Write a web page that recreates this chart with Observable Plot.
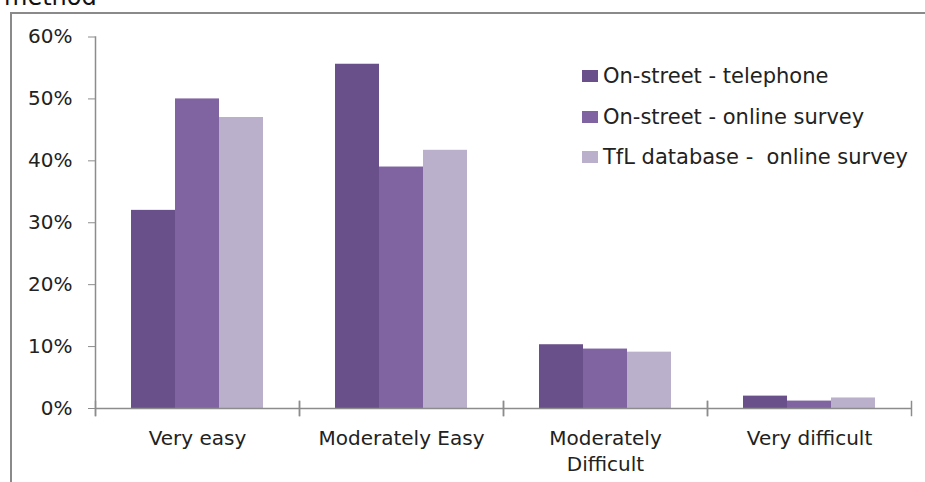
<!DOCTYPE html>
<html>
<head>
<meta charset="utf-8">
<script src="https://cdn.jsdelivr.net/npm/d3@7"></script>
<script src="https://cdn.jsdelivr.net/npm/@observablehq/plot@0.6"></script>
<style>
  body { margin: 0; background: #fff; font-family: "DejaVu Sans", sans-serif; }
  #wrap { position: relative; width: 925px; height: 482px; overflow: hidden; background: #fff; }
  #border { position: absolute; left: 10px; top: 12px; right: 0; bottom: 0;
            border-left: 2px solid #8a8a8a; border-top: 2px solid #8a8a8a; }
  #title { position: absolute; left: 4px; top: -15px; font-size: 24px; line-height: 24px; color: #111; white-space: nowrap; }
  #chart { position: absolute; left: 0; top: 0; }
  #legend { position: absolute; left: 582px; top: 56px; }
  .item { display: flex; align-items: center; height: 40.5px; font-size: 21px; color: #222; white-space: pre; }
  .sw { width: 16px; height: 12px; margin-right: 5px; flex: none; }
</style>
</head>
<body>
<div id="wrap">
  <div id="border"></div>
  <div id="title">method</div>
  <div id="chart"></div>
  <div id="legend"></div>
</div>
<script>
const categories = ["Very easy", "Moderately Easy", "Moderately Difficult", "Very difficult"];
const tickLabels = ["Very easy", "Moderately Easy", "Moderately\nDifficult", "Very difficult"];
const series = ["On-street - telephone", "On-street - online survey", "TfL database -  online survey"];
const telephone = [0.320, 0.556, 0.103, 0.020];
const onlineStreet = [0.500, 0.390, 0.096, 0.012];
const tflOnline = [0.470, 0.417, 0.091, 0.017];
const yTicks = [0, 0.1, 0.2, 0.3, 0.4, 0.5, 0.6];
const colors = ["#69508a", "#8064a2", "#bab0cc"];

const seriesValues = [telephone, onlineStreet, tflOnline];
const data = categories.flatMap((c, i) =>
  series.map((s, j) => ({category: c, series: s, value: seriesValues[j][i]}))
);

const W = 925, H = 482, mT = 36.5, mB = 74, mL = 95, mR = 14;
const innerH = H - mT - mB;
const axisGrey = "#8c8c8c";

const chart = Plot.plot({
  width: W, height: H,
  marginTop: mT, marginBottom: mB, marginLeft: mL, marginRight: mR,
  style: {fontFamily: "DejaVu Sans, sans-serif", fontSize: "20px", color: "#222", background: "transparent", overflow: "visible"},
  fx: {domain: categories, padding: 0, label: null},
  x: {domain: series, paddingInner: 0, paddingOuter: 0.77, axis: null},
  y: {domain: [0, 0.6], label: null},
  color: {domain: series, range: colors},
  marks: [
    Plot.barY(data, {fx: "category", x: "series", y: "value", fill: "series"}),
    Plot.ruleY([0], {stroke: axisGrey, strokeWidth: 1.5}),
    Plot.frame({anchor: "left", stroke: axisGrey, strokeWidth: 1.5, insetTop: innerH - 7, insetBottom: -7}),
    Plot.frame({anchor: "right", stroke: axisGrey, strokeWidth: 1.5, insetTop: innerH - 7, insetBottom: -7}),
    Plot.frame({anchor: "left", stroke: axisGrey, strokeWidth: 1.5, facetAnchor: "left", insetBottom: -7}),
    Plot.axisY({ticks: yTicks, tickFormat: d3.format(".0%"), tickSize: 7, tickPadding: 16, stroke: axisGrey, fill: "#222", fontSize: 20, label: null}),
    Plot.axisFx({anchor: "bottom", tickSize: 0, tickPadding: 18, fill: "#222",
                 tickFormat: d => tickLabels[categories.indexOf(d)], lineHeight: 1.3, fontSize: 20, label: null})
  ]
});
document.getElementById("chart").appendChild(chart);

const legend = document.getElementById("legend");
series.forEach((s, i) => {
  const item = document.createElement("div");
  item.className = "item";
  const sw = document.createElement("span");
  sw.className = "sw";
  sw.style.background = colors[i];
  const label = document.createElement("span");
  label.textContent = s;
  item.appendChild(sw);
  item.appendChild(label);
  legend.appendChild(item);
});
</script>
</body>
</html>
